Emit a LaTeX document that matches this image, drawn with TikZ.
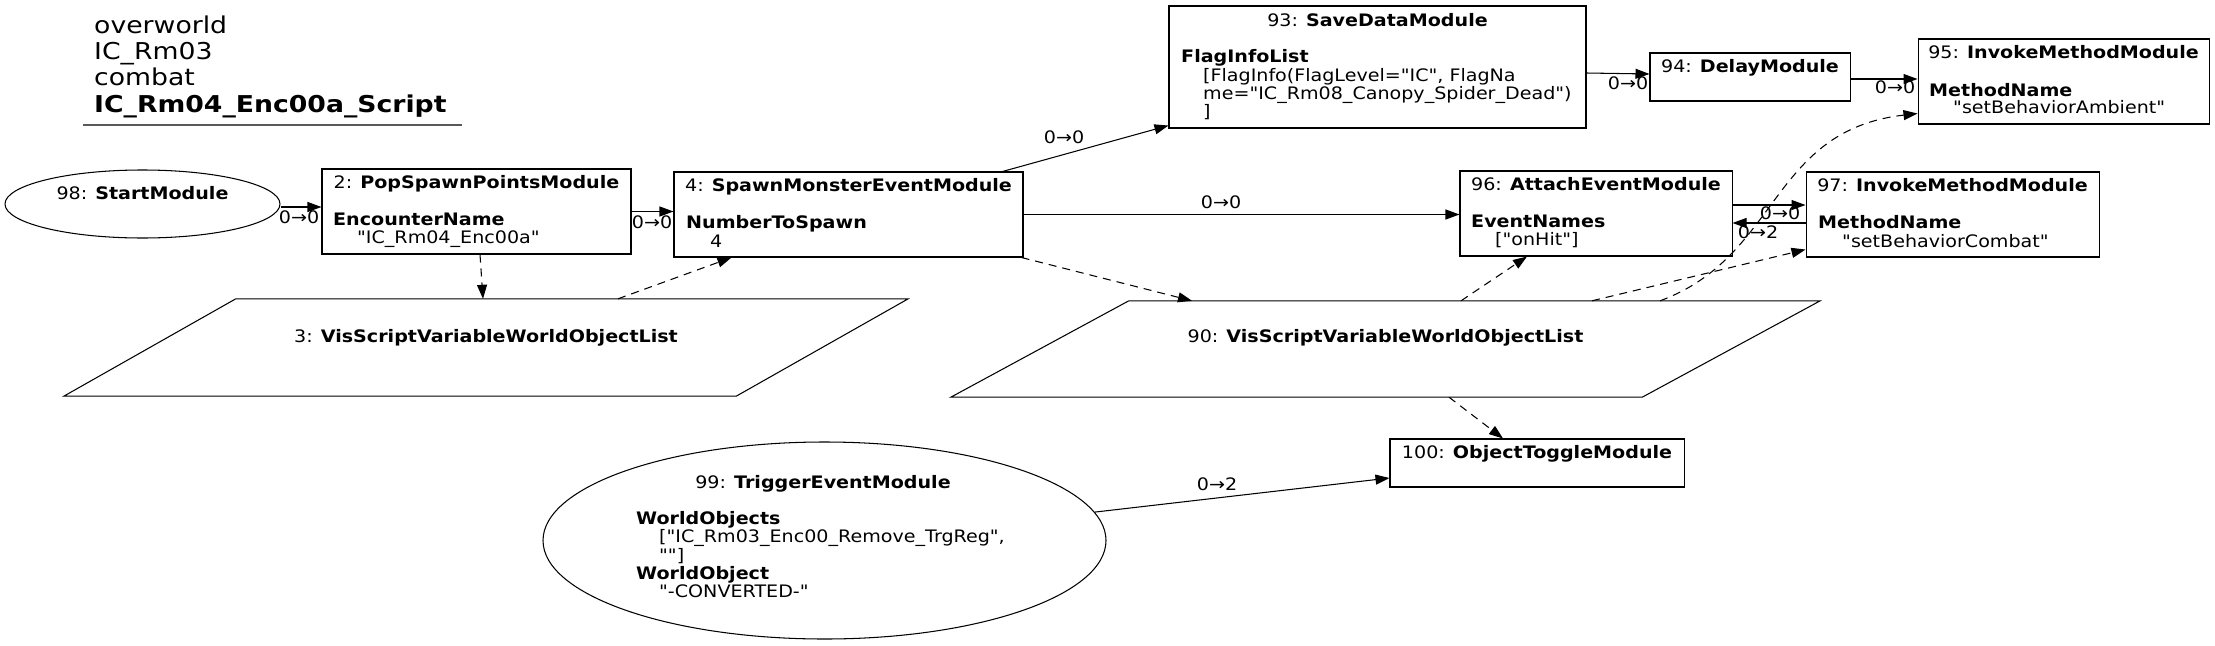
\documentclass[tikz,border=0pt]{standalone}
\usepackage{fontspec}
\setmainfont{DejaVu Sans}[FakeStretch=1.11, Ligatures=TeXOff]
\newfontfamily\titlefont{DejaVu Sans}[FakeStretch=1.15, Ligatures=TeXOff]
\usetikzlibrary{arrows.meta,calc,shapes.geometric}
\tikzset{
  box/.style={draw, rectangle, line width=1.05pt, inner sep=0pt},
  oval/.style={draw, ellipse, line width=1.05pt, inner sep=0pt},
  area/.style={inner sep=0pt},
  shapeline/.style={line width=1.05pt},
  txt/.style={inner sep=0pt, font=\fontsize{17.2}{18.3}\selectfont},
  ttl/.style={inner sep=0pt, anchor=base west, font=\titlefont\fontsize{23.2}{26}\selectfont},
  lbl/.style={inner sep=0pt, font=\fontsize{17.2}{18.3}\selectfont},
  edge/.style={line width=1.05pt, -{Triangle[length=14pt,width=10pt]}},
  dep/.style={edge, dash pattern=on 8pt off 6pt},
}
\begin{document}
\begin{tikzpicture}[x=1pt,y=-1pt]
\useasboundingbox (0,0) rectangle (2215,645);

% title
\node[ttl] (t1) at (94,33) {overworld};
\node[ttl] (t2) at (94,59.3) {IC\_Rm03};
\node[ttl] (t3) at (94,85.5) {combat};
\node[ttl] (t4) at (94,112) {\textbf{IC\_Rm04\_Enc00a\_Script}};
\draw[line width=2pt, color=black!65] (83,125) -- (462,125);

% 98
\node[oval, minimum width=275pt, minimum height=68pt] (n98) at (142.5,204) {};
\node[txt, anchor=base] (n98t) at (142.5,199) {98: \textbf{StartModule}};

% 2
\node[box, minimum width=309pt, minimum height=85pt] (n2) at (476.5,211.5) {};
\node[txt, anchor=base] (n2t) at (476.5,188) {2: \textbf{PopSpawnPointsModule}};
\node[txt, anchor=base west] (n2a) at (333,225) {\textbf{EncounterName}};
\node[txt, anchor=base west] (n2b) at (357,243) {"IC\_Rm04\_Enc00a"};

% 4
\node[box, minimum width=349pt, minimum height=85pt] (n4) at (848.5,214.5) {};
\node[txt, anchor=base] (n4t) at (848.5,191) {4: \textbf{SpawnMonsterEventModule}};
\node[txt, anchor=base west] (n4a) at (686,228) {\textbf{NumberToSpawn}};
\node[txt, anchor=base west] (n4b) at (710,247) {4};

% 93
\node[box, minimum width=417pt, minimum height=122pt] (n93) at (1377.5,67) {};
\node[txt, anchor=base] (n93t) at (1377.5,26) {93: \textbf{SaveDataModule}};
\node[txt, anchor=base west] (n93a) at (1181,62.5) {\textbf{FlagInfoList}};
\node[txt, anchor=base west] (n93b) at (1203,81) {[FlagInfo(FlagLevel="IC", FlagNa};
\node[txt, anchor=base west] (n93c) at (1203,99.3) {me="IC\_Rm08\_Canopy\_Spider\_Dead")};
\node[txt, anchor=base west] (n93d) at (1203,117.6) {]};

% 94
\node[box, minimum width=200pt, minimum height=48pt] (n94) at (1750,77) {};
\node[txt, anchor=base] (n94t) at (1750,72) {94: \textbf{DelayModule}};

% 95
\node[box, minimum width=291pt, minimum height=85pt] (n95) at (2063.5,81.5) {};
\node[txt, anchor=base] (n95t) at (2063.5,58) {95: \textbf{InvokeMethodModule}};
\node[txt, anchor=base west] (n95a) at (1929,96) {\textbf{MethodName}};
\node[txt, anchor=base west] (n95b) at (1953,113) {"setBehaviorAmbient"};

% 96
\node[box, minimum width=272pt, minimum height=85pt] (n96) at (1596,213.5) {};
\node[txt, anchor=base] (n96t) at (1596,190) {96: \textbf{AttachEventModule}};
\node[txt, anchor=base west] (n96a) at (1471,227) {\textbf{EventNames}};
\node[txt, anchor=base west] (n96b) at (1495,245) {["onHit"]};

% 97
\node[box, minimum width=293pt, minimum height=85pt] (n97) at (1952.5,214.5) {};
\node[txt, anchor=base] (n97t) at (1952.5,191) {97: \textbf{InvokeMethodModule}};
\node[txt, anchor=base west] (n97a) at (1818,228) {\textbf{MethodName}};
\node[txt, anchor=base west] (n97b) at (1842,247) {"setBehaviorCombat"};

% 100
\node[box, minimum width=294pt, minimum height=48pt] (n100) at (1537,463) {};
\node[txt, anchor=base] (n100t) at (1537,458) {100: \textbf{ObjectToggleModule}};

% 99
\node[oval, minimum width=563pt, minimum height=197pt] (n99) at (824.5,540.5) {};
\node[txt, anchor=base] (n99t) at (823,488) {99: \textbf{TriggerEventModule}};
\node[txt, anchor=base west] (n99a) at (636,524) {\textbf{WorldObjects}};
\node[txt, anchor=base west] (n99b) at (659,542) {["IC\_Rm03\_Enc00\_Remove\_TrgReg",};
\node[txt, anchor=base west] (n99c) at (659,561) {""]};
\node[txt, anchor=base west] (n99d) at (636,579) {\textbf{WorldObject}};
\node[txt, anchor=base west] (n99e) at (659,597) {"-CONVERTED-"};

% 3 (parallelogram)
\node[area, minimum width=844pt, minimum height=97pt] (n3) at (486,347.5) {};
\draw[shapeline] ($(n3.north west)+(172,0)$) -- (n3.north east) -- ($(n3.south east)+(-172,0)$) -- (n3.south west) -- cycle;
\node[txt, anchor=base] (n3t) at (486,342) {3: \textbf{VisScriptVariableWorldObjectList}};

% 90 (parallelogram)
\node[area, minimum width=869pt, minimum height=96pt] (n90) at (1385.5,349) {};
\draw[shapeline] ($(n90.north west)+(178,0)$) -- (n90.north east) -- ($(n90.south east)+(-178,0)$) -- (n90.south west) -- cycle;
\node[txt, anchor=base] (n90t) at (1385.5,342) {90: \textbf{VisScriptVariableWorldObjectList}};

% solid connectors
\draw[edge] ($(n98.east)+(0,3)$) -- ($(n2.west)+(0,-4.5)$);
\draw[edge] (n2.east) -- (n2.east -| n4.west);
\draw[edge] ($(n4.north east)+(-21,0)$) -- ($(n93.south west)+(0,-3)$);
\draw[edge] (n4.east) -- (n4.east -| n96.west);
\draw[edge] ($(n93.east)+(0,6)$) -- ($(n94.west)+(0,-3)$);
\draw[edge] ($(n94.east)+(0,2)$) -- ($(n95.west)+(0,-2.5)$);
\draw[edge] ($(n96.east)+(0,-8.5)$) -- ($(n97.west)+(0,-9.5)$);
\draw[edge] ($(n97.west)+(0,8.5)$) -- ($(n96.east)+(0,9.5)$);
\draw[edge] (n99.6) -- ($(n100.west)+(0,15)$);

% labels
\node[lbl] (l1) at (299,217) {0→0};
\node[lbl] (l2) at (652,222) {0→0};
\node[lbl] (l3) at (1064,137) {0→0};
\node[lbl] (l4) at (1221,202) {0→0};
\node[lbl] (l5) at (1628,83) {0→0};
\node[lbl] (l6) at (1895,87) {0→0};
\node[lbl] (l7) at (1780,213) {0→0};
\node[lbl] (l8) at (1758,232) {0→2};
\node[lbl] (l9) at (1217,484) {0→2};

% dashed connectors
\draw[dep] ($(n2.south)+(3.5,0)$) -- ($(n3.north)+(-3,0)$);
\draw[dep] ($(n3.north)+(132,0)$) -- ($(n4.south west)+(58,0)$);
\draw[dep] ($(n4.south east)+(-2,0)$) -- ($(n90.north)+(-193.5,0)$);
\draw[dep] ($(n90.north)+(75.5,0)$) -- ($(n96.south)+(-69,0)$);
\draw[dep] ($(n90.north)+(206.5,0)$) -- ($(n97.south west)+(0,-8)$);
\draw[dep] ($(n90.north)+(274.5,0)$) .. controls +(120,-44) and +(-148,17) .. ($(n95.south west)+(0,-11)$);
\draw[dep] ($(n90.south)+(63.5,0)$) -- ($(n100.north)+(-34,0)$);
\end{tikzpicture}
\end{document}
